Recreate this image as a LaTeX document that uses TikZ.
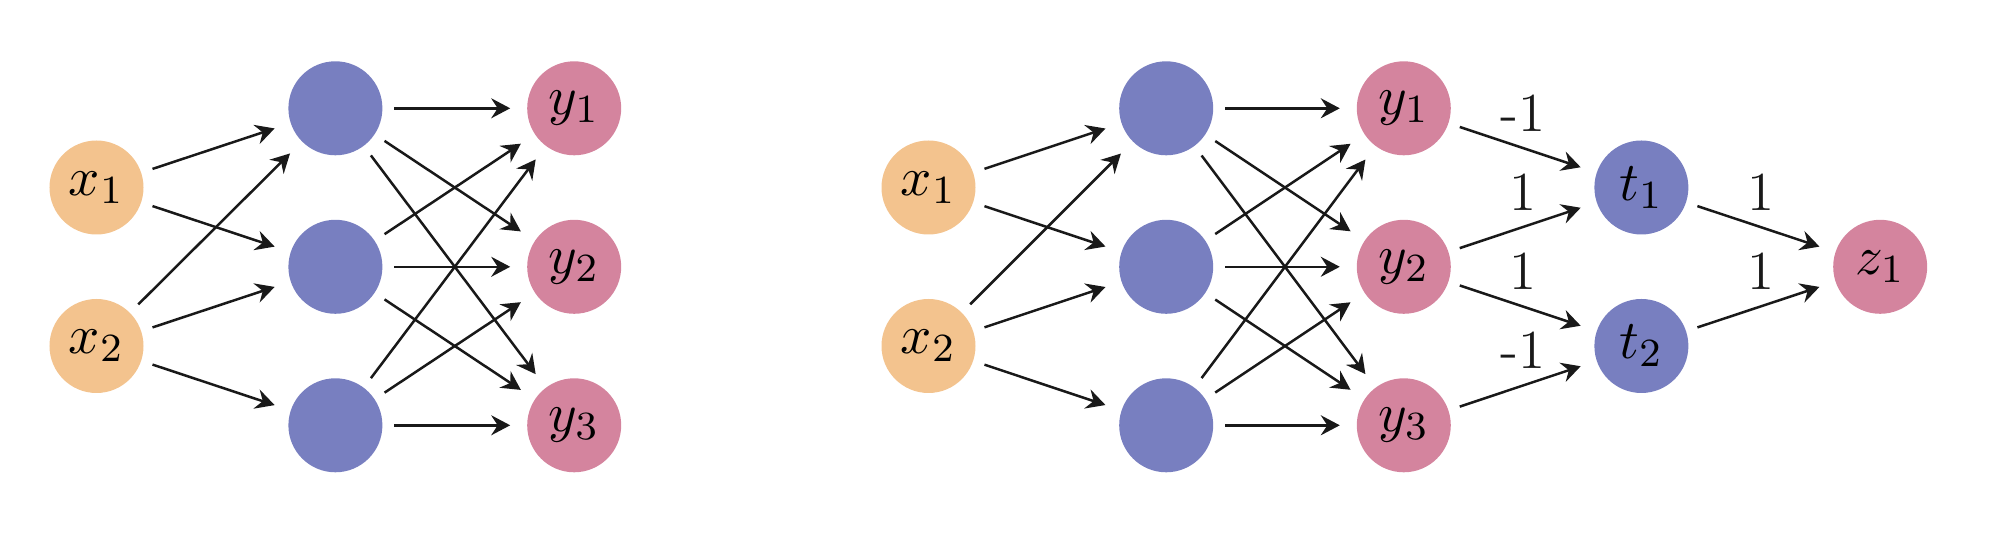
\documentclass[tikz,border=0pt]{standalone}
\usetikzlibrary{arrows.meta}
\definecolor{inorange}{RGB}{243,195,142}
\definecolor{hidblue}{RGB}{120,127,192}
\definecolor{outpink}{RGB}{212,132,158}
\begin{document}
\begin{tikzpicture}[x=0.2pt,y=-0.2pt,
  neuron/.style={circle,minimum size=18.8pt,inner sep=0pt,font=\fontsize{11}{13}\selectfont},
  inn/.style={neuron,fill=inorange},
  hid/.style={neuron,fill=hidblue},
  outn/.style={neuron,fill=outpink},
  conn/.style={line width=0.5pt,black!90,-{Stealth[length=3.8pt,width=4pt,inset=1.3pt]},shorten <=2.2pt,shorten >=3.2pt},
  wlab/.style={midway,yshift=7pt,font=\fontsize{11}{13}\selectfont}]
\useasboundingbox (0,0) rectangle (1992,544);
% left network
\node[inn] (ax1) at (96.5,187.5) {$x_1$};
\node[inn] (ax2) at (96.5,346) {$x_2$};
\node[hid] (ah1) at (335.4,108.3) {};
\node[hid] (ah2) at (335.4,266.8) {};
\node[hid] (ah3) at (335.4,425.3) {};
\node[outn] (ay1) at (574.2,108.3) {$y_1$};
\node[outn] (ay2) at (574.2,266.8) {$y_2$};
\node[outn] (ay3) at (574.2,425.3) {$y_3$};
\draw[conn] (ax1) -- (ah1);
\draw[conn] (ax1) -- (ah2);
\foreach \j in {1,2,3}{\draw[conn] (ax2) -- (ah\j);}
\foreach \i in {1,2,3}{\foreach \j in {1,2,3}{\draw[conn] (ah\i) -- (ay\j);}}
% right network
\node[inn] (bx1) at (928.5,187.5) {$x_1$};
\node[inn] (bx2) at (928.5,346) {$x_2$};
\node[hid] (bh1) at (1166.2,108.3) {};
\node[hid] (bh2) at (1166.2,266.8) {};
\node[hid] (bh3) at (1166.2,425.3) {};
\node[outn] (by1) at (1403.8,108.3) {$y_1$};
\node[outn] (by2) at (1403.8,266.8) {$y_2$};
\node[outn] (by3) at (1403.8,425.3) {$y_3$};
\node[hid] (bt1) at (1641.4,187.5) {$t_1$};
\node[hid] (bt2) at (1641.4,346) {$t_2$};
\node[outn] (bz1) at (1880.2,266.8) {$z_1$};
\draw[conn] (bx1) -- (bh1);
\draw[conn] (bx1) -- (bh2);
\foreach \j in {1,2,3}{\draw[conn] (bx2) -- (bh\j);}
\foreach \i in {1,2,3}{\foreach \j in {1,2,3}{\draw[conn] (bh\i) -- (by\j);}}
\draw[conn] (by1) -- (bt1) node[wlab] {-1};
\draw[conn] (by2) -- (bt1) node[wlab] {1};
\draw[conn] (by2) -- (bt2) node[wlab] {1};
\draw[conn] (by3) -- (bt2) node[wlab] {-1};
\draw[conn] (bt1) -- (bz1) node[wlab] {1};
\draw[conn] (bt2) -- (bz1) node[wlab] {1};
\end{tikzpicture}
\end{document}
